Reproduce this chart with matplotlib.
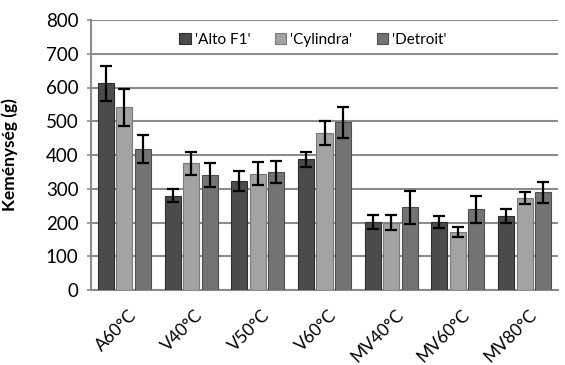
import matplotlib.pyplot as plt
import matplotlib.transforms as mtransforms
import numpy as np

# treatments and cultivars
categories = ['A60°C', 'V40°C', 'V50°C', 'V60°C', 'MV40°C', 'MV60°C', 'MV80°C']
cultivars = ["'Alto F1'", "'Cylindra'", "'Detroit'"]

# hardness means (g)
alto = [612, 280, 322, 387, 202, 202, 219]
cylindra = [541, 375, 345, 466, 200, 173, 272]
detroit = [418, 340, 350, 497, 245, 239, 289]

# error bar half-widths
alto_err = [53, 20, 30, 22, 20, 18, 21]
cylindra_err = [54, 35, 33, 36, 22, 15, 18]
detroit_err = [42, 35, 32, 46, 49, 40, 31]

colors = ['#4b4b4b', '#a3a3a3', '#737373']
edges = ['#2e2e2e', '#7a7a7a', '#4f4f4f']

plt.rcParams['font.family'] = ['Lato', 'DejaVu Sans']

fig = plt.figure(figsize=(5.65, 3.65), dpi=100)
ax = fig.add_axes([91 / 565, 1 - 290 / 365, 467 / 565, 270 / 365])

x = np.arange(len(categories))
step = 0.277
width = 0.24
series = [alto, cylindra, detroit]
errs = [alto_err, cylindra_err, detroit_err]
for i, (vals, err) in enumerate(zip(series, errs)):
    pos = x + (i - 1) * step
    ax.bar(pos, vals, width, color=colors[i], edgecolor=edges[i], linewidth=0.8,
           label=cultivars[i], zorder=3)
    ax.errorbar(pos, vals, yerr=err, fmt='none', ecolor='black', elinewidth=1.6,
                capsize=4, capthick=1.6, zorder=4)

ax.set_xlim(-0.5, len(categories) - 0.5)
ax.set_ylim(0, 800)
ax.set_yticks(np.arange(0, 801, 100))
ax.yaxis.grid(True, color='#8c8c8c', linewidth=1.5, zorder=0)
ax.set_axisbelow(True)
ax.tick_params(axis='y', length=3, width=1.2, color='#8c8c8c', labelsize=13.5, pad=6)
ax.tick_params(axis='x', length=0, labelsize=12.5, pad=12)
ax.set_xticks(x)
ax.set_xticklabels(categories, rotation=45, ha='right', rotation_mode='anchor')
shift = mtransforms.ScaledTranslation(4 / 100, 0, fig.dpi_scale_trans)
for lab in ax.get_xticklabels():
    lab.set_transform(lab.get_transform() + shift)
for s in ['top', 'right']:
    ax.spines[s].set_visible(False)
ax.spines['left'].set_color('#8c8c8c')
ax.spines['bottom'].set_color('#8c8c8c')
ax.spines['left'].set_linewidth(1.5)
ax.spines['bottom'].set_linewidth(1.5)

ax.set_ylabel('Keménység (g)', fontsize=12.5, fontweight='bold', labelpad=4)
ax.yaxis.set_label_coords(-73 / 467, 0.5)

ax.legend(loc='upper center', bbox_to_anchor=(0.475, 0.985), ncol=3, frameon=False,
          fontsize=11, handlelength=0.75, handleheight=0.75, handletextpad=0.25,
          columnspacing=1.6, borderaxespad=0.2)

fig.savefig('out.png', dpi=100)
